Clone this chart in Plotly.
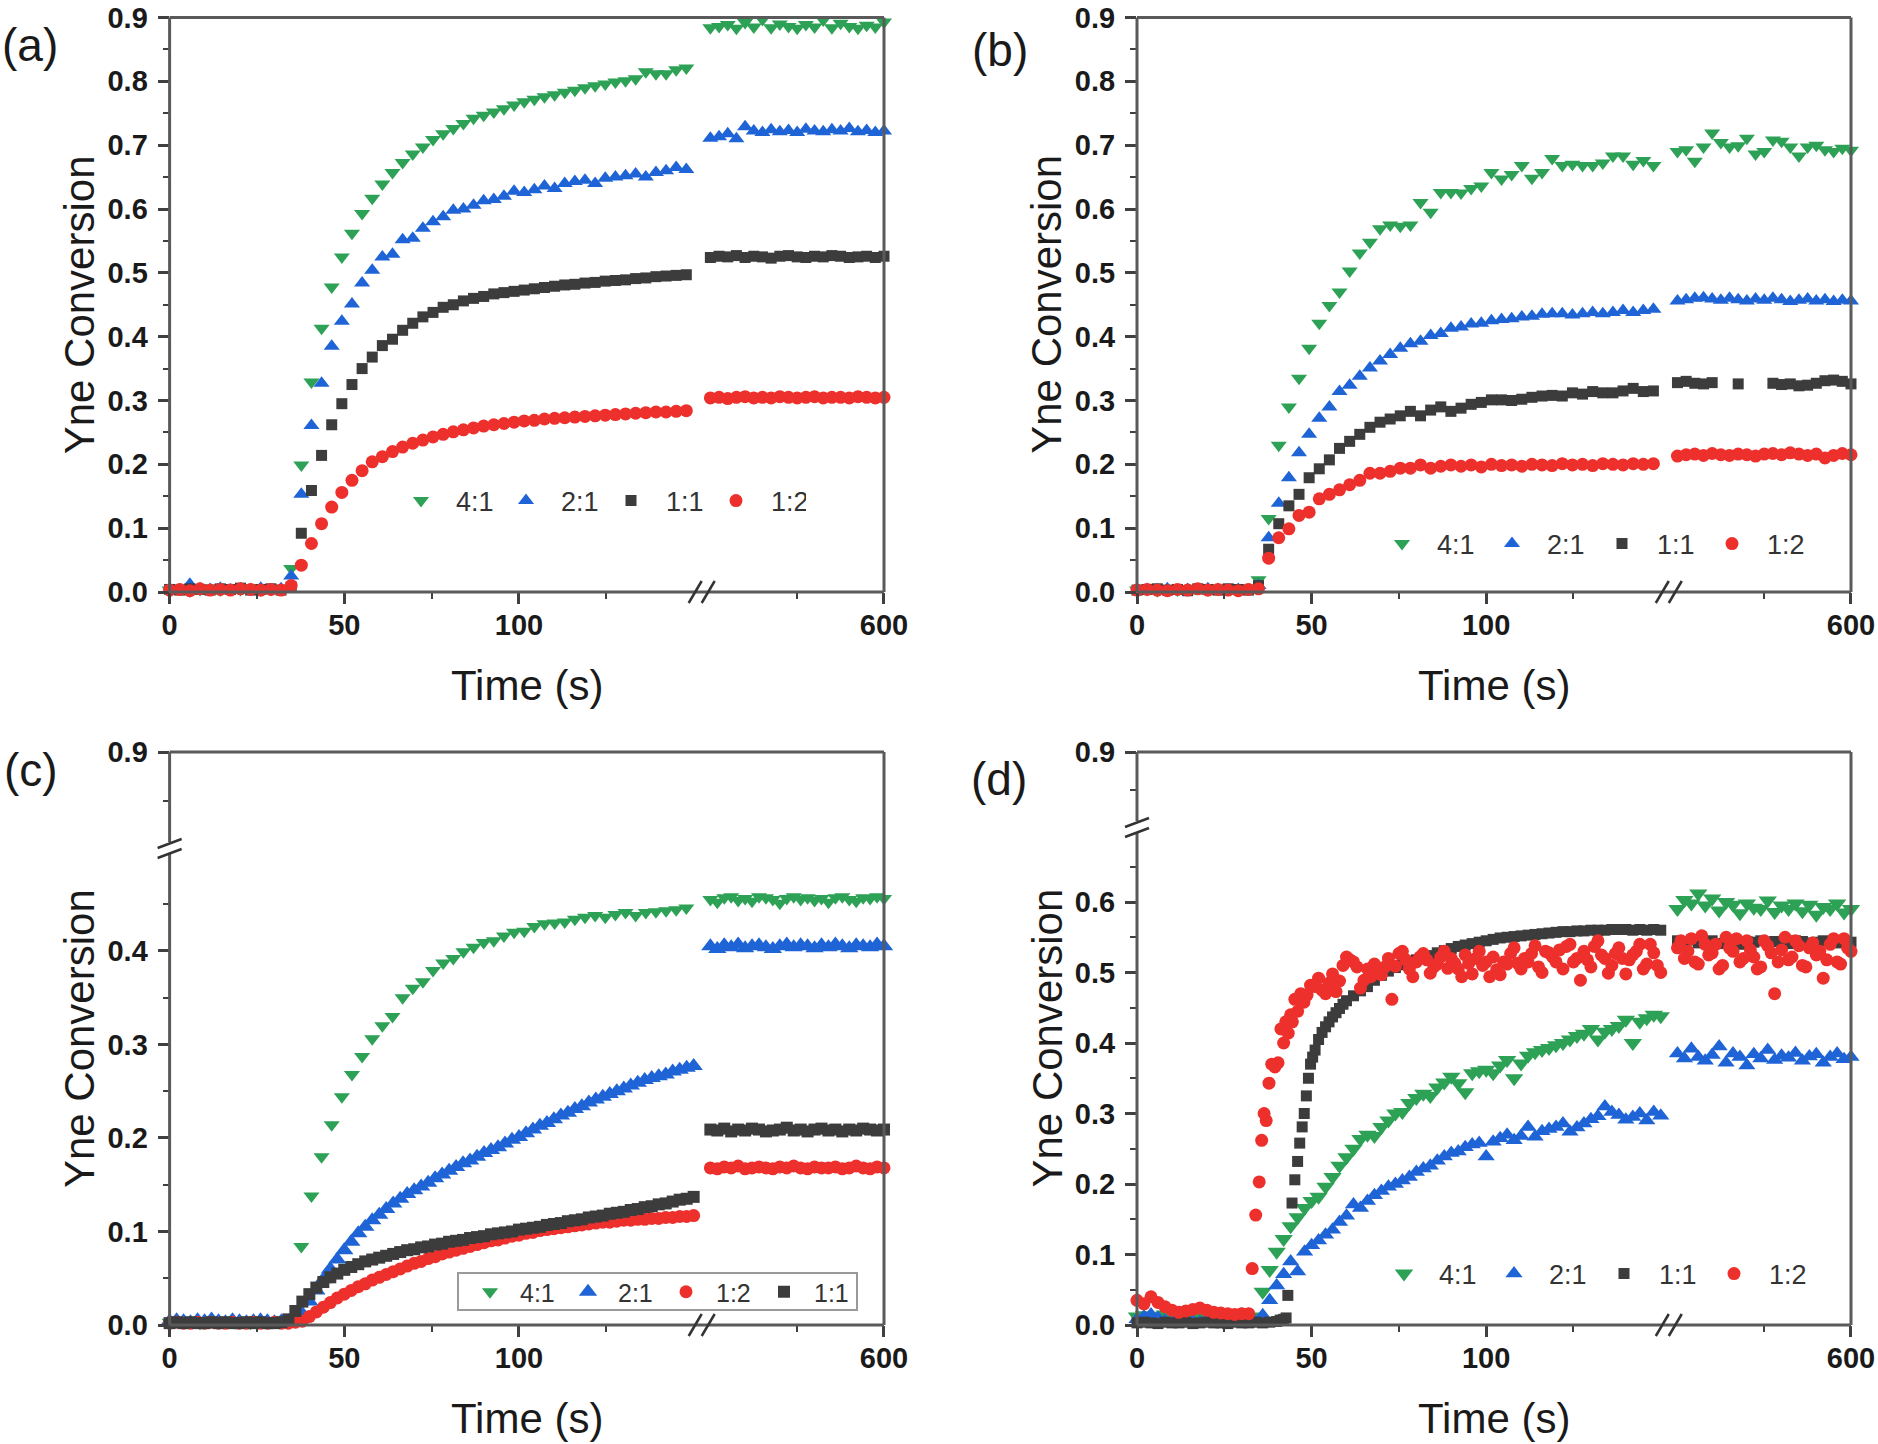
import plotly.graph_objects as go

W, H = 1878, 1444
FONT = "Liberation Sans, Arial, Helvetica, sans-serif"
GREEN, BLUE, RED, BLACK = "#2DA155", "#1F64D6", "#EE302D", "#3C3C3C"
FRAME = "#5A5A5A"
TICKC = "#404040"

# ---------------- sampling times ----------------
T_AB = [0.0, 2.9, 5.8, 8.7, 11.6, 14.5, 17.4, 20.3, 23.2, 26.1, 29.0, 31.9,
        34.8, 37.7, 40.6, 43.5, 46.4, 49.3, 52.2, 55.1, 58.0, 60.9,
        63.8, 66.7, 69.6, 72.5, 75.4, 78.3, 81.2, 84.1, 87.0, 89.9,
        92.8, 95.7, 98.6, 101.5, 104.4, 107.3, 110.2, 113.1, 116.0, 118.9,
        121.8, 124.7, 127.6, 130.5, 133.4, 136.3, 139.2, 142.1, 145.0, 147.9]
R5 = [500, 505, 510, 515, 520, 525, 530, 535, 540, 545, 550, 555, 560, 565,
      570, 575, 580, 585, 590, 595, 600]
R4 = [500, 504, 508, 512, 516, 520, 524, 528, 532, 536, 540, 544, 548, 552,
      556, 560, 564, 568, 572, 576, 580, 584, 588, 592, 596, 600]
R4b = [502, 506, 510, 514, 518, 522, 526, 530, 534, 538, 542, 546, 550, 554,
       558, 562, 566, 570, 574, 578, 582, 586, 590, 594, 598]
G2 = [0, 2, 4, 6, 8, 10, 12, 14, 16, 18, 20, 22, 24, 26, 28, 30, 32, 34, 36,
      38, 40, 42, 44, 46, 48, 50, 52, 54, 56, 58, 60, 62, 64, 66, 68, 70, 72,
      74, 76, 78, 80, 82, 84, 86, 88, 90, 92, 94, 96, 98, 100, 102, 104, 106,
      108, 110, 112, 114, 116, 118, 120, 122, 124, 126, 128, 130, 132, 134,
      136, 138, 140, 142, 144, 146, 148, 150]

# ---------------- panel (a) ----------------
a_41 = [0.003, 0.005, 0.002, 0.004, 0.006, 0.003, 0.005, 0.004, 0.006, 0.003, 0.004, 0.005,
        0.037, 0.199, 0.329, 0.413, 0.478, 0.525, 0.562, 0.593, 0.617, 0.639,
        0.657, 0.673, 0.686, 0.697, 0.709, 0.718, 0.726, 0.734, 0.742, 0.747,
        0.752, 0.757, 0.763, 0.768, 0.772, 0.776, 0.779, 0.783, 0.786, 0.790,
        0.793, 0.796, 0.799, 0.801, 0.804, 0.815, 0.812, 0.812, 0.818, 0.821]
a_41_r = [0.884, 0.886, 0.889, 0.883, 0.892, 0.885, 0.897, 0.884, 0.890, 0.886, 0.883,
          0.889, 0.885, 0.896, 0.884, 0.891, 0.886, 0.883, 0.888, 0.885, 0.893]
a_21 = [0.004, 0.003, 0.012, 0.005, 0.004, 0.006, 0.003, 0.005, 0.004, 0.006, 0.003, 0.005,
        0.025, 0.153, 0.261, 0.327, 0.385, 0.424, 0.451, 0.484, 0.504, 0.525,
        0.529, 0.552, 0.554, 0.570, 0.580, 0.588, 0.598, 0.600, 0.606, 0.613,
        0.615, 0.620, 0.628, 0.626, 0.630, 0.636, 0.632, 0.640, 0.643, 0.645,
        0.640, 0.648, 0.650, 0.652, 0.655, 0.650, 0.657, 0.660, 0.665, 0.662]
a_21_r = [0.711, 0.713, 0.718, 0.710, 0.729, 0.722, 0.720, 0.724, 0.721, 0.723, 0.720,
          0.725, 0.722, 0.721, 0.724, 0.722, 0.726, 0.721, 0.723, 0.720, 0.722]
a_11 = [0.004, 0.003, 0.005, 0.004, 0.003, 0.005, 0.004, 0.006, 0.003, 0.004, 0.005, 0.003,
        0.008, 0.092, 0.159, 0.214, 0.262, 0.295, 0.325, 0.350, 0.368, 0.386,
        0.396, 0.410, 0.421, 0.431, 0.438, 0.446, 0.450, 0.456, 0.460, 0.463,
        0.467, 0.469, 0.471, 0.473, 0.475, 0.477, 0.479, 0.481, 0.482, 0.484,
        0.485, 0.487, 0.488, 0.489, 0.491, 0.492, 0.494, 0.495, 0.496, 0.497]
a_11_r = [0.524, 0.526, 0.525, 0.527, 0.524, 0.526, 0.525, 0.523, 0.526, 0.527, 0.525,
          0.524, 0.526, 0.525, 0.527, 0.526, 0.524, 0.525, 0.526, 0.524, 0.526]
a_12 = [0.003, 0.004, 0.002, 0.005, 0.003, 0.004, 0.003, 0.005, 0.004, 0.003, 0.004, 0.003,
        0.010, 0.042, 0.076, 0.107, 0.133, 0.156, 0.175, 0.190, 0.204, 0.212,
        0.220, 0.227, 0.233, 0.238, 0.243, 0.247, 0.251, 0.254, 0.257, 0.260,
        0.262, 0.264, 0.266, 0.268, 0.269, 0.271, 0.272, 0.273, 0.274, 0.275,
        0.276, 0.277, 0.278, 0.279, 0.280, 0.281, 0.282, 0.282, 0.283, 0.284]
a_12_r = [0.304, 0.305, 0.303, 0.305, 0.306, 0.304, 0.305, 0.304, 0.306, 0.305, 0.304,
          0.305, 0.306, 0.304, 0.305, 0.305, 0.304, 0.306, 0.305, 0.304, 0.305]

# ---------------- panel (b) ----------------
b_41 = [0.003, 0.004, 0.002, 0.005, 0.003, 0.004, 0.006, 0.003, 0.005, 0.004, 0.003, 0.005,
        0.019, 0.115, 0.230, 0.290, 0.335, 0.382, 0.421, 0.449, 0.470, 0.503,
        0.531, 0.548, 0.569, 0.575, 0.573, 0.575, 0.610, 0.595, 0.626, 0.626,
        0.625, 0.632, 0.636, 0.657, 0.647, 0.654, 0.668, 0.648, 0.657, 0.679,
        0.668, 0.670, 0.668, 0.668, 0.672, 0.683, 0.683, 0.670, 0.676, 0.668]
b_41_r = [0.690, 0.693, 0.675, 0.697, 0.719, 0.704, 0.697, 0.699, 0.711, 0.686, 0.690,
          0.708, 0.706, 0.697, 0.683, 0.697, 0.700, 0.693, 0.690, 0.695, 0.692]
b_21 = [0.003, 0.004, 0.003, 0.005, 0.002, 0.004, 0.003, 0.005, 0.004, 0.003, 0.004, 0.003,
        0.010, 0.085, 0.139, 0.179, 0.218, 0.247, 0.272, 0.290, 0.314, 0.324,
        0.338, 0.351, 0.362, 0.372, 0.382, 0.389, 0.393, 0.402, 0.405, 0.413,
        0.415, 0.420, 0.421, 0.425, 0.427, 0.428, 0.431, 0.432, 0.435, 0.436,
        0.436, 0.434, 0.436, 0.438, 0.436, 0.438, 0.441, 0.438, 0.441, 0.443]
b_21_r = [0.456, 0.458, 0.460, 0.461, 0.459, 0.457, 0.460, 0.458, 0.456, 0.459, 0.457,
          0.460, 0.458, 0.455, 0.457, 0.459, 0.456, 0.458, 0.455, 0.457, 0.456]
b_11 = [0.003, 0.004, 0.005, 0.003, 0.004, 0.002, 0.005, 0.004, 0.003, 0.005, 0.004, 0.003,
        0.010, 0.067, 0.107, 0.135, 0.153, 0.179, 0.193, 0.207, 0.225, 0.236,
        0.247, 0.258, 0.266, 0.271, 0.276, 0.283, 0.276, 0.285, 0.290, 0.283,
        0.288, 0.294, 0.297, 0.301, 0.301, 0.300, 0.302, 0.305, 0.307, 0.308,
        0.307, 0.312, 0.310, 0.314, 0.312, 0.312, 0.315, 0.319, 0.314, 0.315]
b_11_r = [0.328, 0.330, 0.327, 0.326, 0.328, None, None, 0.326, None, None, None,
          0.327, 0.325, 0.326, 0.323, 0.324, 0.327, 0.331, 0.332, 0.330, 0.326]
b_12 = [0.003, 0.004, 0.003, 0.002, 0.004, 0.003, 0.005, 0.003, 0.004, 0.003, 0.002, 0.004,
        0.005, 0.053, 0.085, 0.099, 0.120, 0.125, 0.146, 0.153, 0.160, 0.168,
        0.175, 0.186, 0.186, 0.189, 0.194, 0.194, 0.199, 0.194, 0.197, 0.199,
        0.197, 0.199, 0.196, 0.200, 0.198, 0.199, 0.197, 0.200, 0.199, 0.198,
        0.201, 0.199, 0.200, 0.198, 0.201, 0.200, 0.199, 0.201, 0.200, 0.201]
b_12_r = [0.213, 0.215, 0.216, 0.214, 0.217, 0.215, 0.214, 0.216, 0.215, 0.213, 0.216,
          0.217, 0.215, 0.218, 0.216, 0.214, 0.216, 0.210, 0.214, 0.217, 0.215]

# ---------------- panel (c) ----------------
c_41 = [0.003, 0.004, 0.003, 0.002, 0.004, 0.003, 0.004, 0.003, 0.002, 0.004, 0.003, 0.004,
        0.008, 0.084, 0.138, 0.180, 0.214, 0.244, 0.268, 0.287, 0.306, 0.320,
        0.330, 0.350, 0.360, 0.367, 0.379, 0.387, 0.392, 0.399, 0.404, 0.409,
        0.411, 0.416, 0.420, 0.421, 0.426, 0.429, 0.430, 0.431, 0.434, 0.436,
        0.438, 0.436, 0.439, 0.441, 0.438, 0.441, 0.442, 0.443, 0.444, 0.446]
c_41_r = [0.455, 0.452, 0.457, 0.458, 0.454, 0.456, 0.453, 0.458, 0.457, 0.455, 0.451, 0.456, 0.458,
          0.455, 0.457, 0.454, 0.456, 0.452, 0.457, 0.458, 0.455, 0.453, 0.457, 0.456, 0.458, 0.456]
c_21 = [0.004, 0.005, 0.004, 0.003, 0.005, 0.004, 0.006, 0.004, 0.003, 0.005, 0.004, 0.003,
        0.004, 0.005, 0.004, 0.003, 0.004, 0.004, 0.004,
        0.012, 0.025, 0.037, 0.049, 0.060, 0.070, 0.080, 0.089, 0.098, 0.105,
        0.112, 0.118, 0.124, 0.130, 0.135, 0.140, 0.144, 0.148, 0.152, 0.157,
        0.161, 0.165, 0.169, 0.173, 0.176, 0.180, 0.184, 0.187, 0.190, 0.194,
        0.198, 0.201, 0.205, 0.209, 0.213, 0.216, 0.220, 0.224, 0.227, 0.231,
        0.234, 0.238, 0.241, 0.244, 0.247, 0.250, 0.253, 0.256, 0.259, 0.262,
        0.264, 0.266, 0.268, 0.271, 0.273, 0.275, 0.277]
c_21_r = [0.405, 0.402, 0.406, 0.404, 0.407, 0.403, 0.405, 0.406, 0.404, 0.402, 0.405, 0.407, 0.404,
          0.406, 0.405, 0.403, 0.406, 0.404, 0.407, 0.405, 0.403, 0.406, 0.405, 0.404, 0.407, 0.405]
c_12 = [0.002, 0.003, 0.002, 0.002, 0.003, 0.002, 0.003, 0.002, 0.002, 0.003, 0.002, 0.002,
        0.003, 0.002, 0.002, 0.003, 0.002, 0.002, 0.003,
        0.004, 0.009, 0.014, 0.019, 0.024, 0.029, 0.033, 0.037, 0.041, 0.044,
        0.048, 0.051, 0.054, 0.057, 0.060, 0.063, 0.066, 0.068, 0.071, 0.073,
        0.076, 0.078, 0.080, 0.082, 0.084, 0.086, 0.088, 0.090, 0.091, 0.093,
        0.095, 0.096, 0.098, 0.099, 0.101, 0.102, 0.103, 0.104, 0.105, 0.106,
        0.107, 0.108, 0.109, 0.110, 0.110, 0.111, 0.112, 0.112, 0.113, 0.113,
        0.114, 0.114, 0.115, 0.115, 0.116, 0.116, 0.117]
c_12_r = [0.168, 0.167, 0.169, 0.168, 0.170, 0.167, 0.168, 0.169, 0.168, 0.167, 0.169, 0.168, 0.170,
          0.168, 0.167, 0.169, 0.168, 0.168, 0.169, 0.167, 0.168, 0.170, 0.168, 0.167, 0.169, 0.168]
c_11 = [0.002, 0.003, 0.002, 0.003, 0.002, 0.002, 0.003, 0.002, 0.003, 0.002, 0.002, 0.003,
        0.002, 0.003, 0.002, 0.002, 0.003,
        0.006, 0.015, 0.025, 0.033,
        0.040, 0.046, 0.051, 0.055, 0.059, 0.062, 0.065, 0.068, 0.070, 0.072,
        0.074, 0.076, 0.078, 0.080, 0.081, 0.083, 0.084, 0.086, 0.087, 0.089,
        0.090, 0.091, 0.093, 0.094, 0.095, 0.097, 0.098, 0.099, 0.100, 0.102,
        0.103, 0.104, 0.105, 0.107, 0.108, 0.109, 0.111, 0.112, 0.113, 0.115,
        0.116, 0.117, 0.119, 0.120, 0.121, 0.123, 0.124, 0.126, 0.127, 0.129,
        0.130, 0.132, 0.134, 0.135, 0.137]
c_11_r = [0.209, 0.208, 0.210, 0.207, 0.209, 0.208, 0.210, 0.209, 0.207, 0.208, 0.209, 0.211, 0.208,
          0.209, 0.207, 0.209, 0.210, 0.208, 0.209, 0.207, 0.209, 0.208, 0.210, 0.209, 0.208, 0.209]

# ---------------- panel (d) ----------------
d_41 = [0.012, 0.014, 0.010, 0.013, 0.015, 0.012, 0.010, 0.013, 0.011, 0.014, 0.012, 0.010,
        0.013, 0.011, 0.012, 0.010, 0.008, 0.012,
        0.047, 0.078, 0.104, 0.122, 0.140, 0.153, 0.166, 0.176, 0.182, 0.196,
        0.210, 0.226, 0.238, 0.250, 0.264, 0.270, 0.268, 0.281, 0.290, 0.300,
        0.302, 0.315, 0.322, 0.328, 0.325, 0.337, 0.344, 0.352, 0.343, 0.330,
        0.357, 0.360, 0.362, 0.357, 0.368, 0.376, 0.350, 0.371, 0.382, 0.387,
        0.390, 0.393, 0.397, 0.400, 0.405, 0.410, 0.413, 0.420, 0.405, 0.416,
        0.420, 0.424, 0.433, 0.400, 0.430, 0.435, 0.440, 0.438]
d_41_r = [0.590, 0.603, 0.598, 0.612, 0.595, 0.605, 0.588, 0.600, 0.596, 0.584, 0.598, 0.592, 0.590,
          0.602, 0.586, 0.595, 0.590, 0.598, 0.587, 0.596, 0.582, 0.593, 0.590, 0.598, 0.585, 0.590]
d_21 = [0.008, 0.012, 0.015, 0.010, 0.006, 0.005, 0.004, 0.006, 0.005, 0.004, 0.006, 0.005,
        0.004, 0.006, 0.010, 0.015, 0.006, 0.004,
        0.014, 0.035, 0.056, 0.072, 0.090, 0.076, 0.104, 0.113, 0.120, 0.128,
        0.135, 0.146, 0.155, 0.171, 0.166, 0.176, 0.184, 0.190, 0.196, 0.200,
        0.205, 0.210, 0.217, 0.222, 0.226, 0.233, 0.239, 0.244, 0.246, 0.252,
        0.256, 0.258, 0.239, 0.260, 0.265, 0.270, 0.262, 0.268, 0.281, 0.267,
        0.275, 0.278, 0.281, 0.286, 0.274, 0.280, 0.286, 0.292, 0.296, 0.310,
        0.302, 0.298, 0.291, 0.295, 0.300, 0.290, 0.302, 0.297]
d_21_r = [0.385, 0.378, 0.392, 0.380, 0.375, 0.383, 0.395, 0.372, 0.385, 0.380, 0.368, 0.384, 0.378,
          0.390, 0.376, 0.382, 0.379, 0.386, 0.375, 0.381, 0.384, 0.372, 0.380, 0.385, 0.377, 0.380]
d_11_t = [0, 2, 4, 6, 8, 10, 12, 14, 16, 18, 20, 22, 24, 26, 28, 30, 32, 34, 36, 38,
          40, 41, 42, 42.7, 43.2, 44.4, 45.2, 46.0, 46.6, 47.3, 47.9, 48.5, 49.1, 49.7,
          50.3, 51, 52, 53, 54, 55, 56, 57, 58, 59, 60,
          62, 64, 66, 68, 70, 72, 74, 76, 78, 80, 82, 84, 86, 88, 90, 92, 94, 96, 98, 100,
          102, 104, 106, 108, 110, 112, 114, 116, 118, 120, 122, 124, 126, 128, 130, 132,
          134, 136, 138, 140, 142, 144, 146, 148, 150]
d_11 = [0.003, 0.004, 0.003, 0.002, 0.004, 0.003, 0.003, 0.004, 0.002, 0.003, 0.004, 0.003,
        0.003, 0.002, 0.004, 0.003, 0.003, 0.004, 0.003, 0.004,
        0.005, 0.007, 0.008, 0.010, 0.042, 0.173, 0.206, 0.232, 0.258, 0.281, 0.300, 0.325,
        0.350, 0.370, 0.380, 0.390, 0.405, 0.415, 0.423, 0.430, 0.437, 0.443, 0.449, 0.455, 0.460,
        0.467, 0.474, 0.480, 0.489, 0.496, 0.502, 0.507, 0.511, 0.515, 0.518,
        0.521, 0.524, 0.528, 0.531, 0.534, 0.537, 0.539, 0.541, 0.543, 0.545,
        0.547, 0.549, 0.550, 0.551, 0.552, 0.553, 0.554, 0.555, 0.556, 0.557,
        0.558, 0.558, 0.559, 0.559, 0.560, 0.560, 0.560, 0.561, 0.561, 0.561,
        0.560, 0.561, 0.560, 0.561, 0.560]
d_11_r = [0.545, 0.543, 0.546, 0.542, 0.544, 0.545, 0.541, 0.543, 0.538, 0.540, 0.544, 0.543, 0.545,
          0.542, 0.544, 0.543, 0.541, 0.545, 0.544, 0.542, 0.543, 0.545, 0.544, 0.542, 0.544, 0.543]
d_12_t = [0, 2, 4, 6, 8, 10, 12, 14, 16, 18, 20, 22, 24, 26, 28, 30, 32,
          33, 34, 35, 35.7, 36.4, 37, 37.8, 38.6, 39.5, 40.4, 41.2, 42, 42.6, 43.3, 44,
          44.5, 45.2, 46, 46.9, 47.8, 48.7, 49.7,
          51, 53, 55, 57, 59, 61, 63, 65, 67, 69, 71, 73, 75, 77, 79, 81, 83, 85, 87, 89,
          91, 93, 95, 97, 99, 101, 103, 105, 107, 109, 111, 113, 115, 117, 119, 121, 123,
          125, 127, 129, 131, 133, 135, 137, 139, 141, 143, 145, 147, 149,
          52, 54, 56, 58, 60, 62, 64, 66, 68, 70, 72, 74, 76, 78, 80, 82, 84, 86, 88, 90,
          92, 94, 96, 98, 100, 102, 104, 106, 108, 110, 112, 114, 116, 118, 120, 122, 124,
          126, 128, 130, 132, 134, 136, 138, 140, 142, 144, 146, 148, 150]
d_12 = [0.035, 0.030, 0.040, 0.032, 0.026, 0.021, 0.018, 0.020, 0.022, 0.024, 0.021, 0.018,
        0.017, 0.016, 0.015, 0.016, 0.016,
        0.080, 0.156, 0.203, 0.262, 0.300, 0.290, 0.343, 0.370, 0.366, 0.372, 0.420, 0.400,
        0.430, 0.414, 0.440, 0.430, 0.462, 0.445, 0.470, 0.458, 0.468, 0.482,
        0.480, 0.475, 0.485, 0.473, 0.510, 0.518, 0.508, 0.489, 0.494, 0.499,
        0.508, 0.462, 0.527, 0.518, 0.494, 0.522, 0.518, 0.508, 0.522, 0.506,
        0.513, 0.494, 0.513, 0.520, 0.510, 0.494, 0.504, 0.515, 0.527, 0.513,
        0.520, 0.527, 0.508, 0.530, 0.522, 0.532, 0.537, 0.515, 0.489, 0.518,
        0.537, 0.525, 0.499, 0.527, 0.520, 0.518, 0.530, 0.505, 0.540, 0.510,
        0.492, 0.470, 0.498, 0.488, 0.522, 0.515, 0.478, 0.505, 0.512, 0.497,
        0.520, 0.509, 0.530, 0.505, 0.515, 0.527, 0.499, 0.512, 0.530, 0.520,
        0.505, 0.525, 0.498, 0.530, 0.515, 0.522, 0.497, 0.512, 0.535, 0.505,
        0.515, 0.538, 0.500, 0.528, 0.515, 0.505, 0.540, 0.520, 0.530, 0.508,
        0.545, 0.520, 0.510, 0.535, 0.498, 0.525, 0.540, 0.512, 0.528, 0.500]
d_12_rt = R4 + R4b
d_12_r = [0.535, 0.520, 0.548, 0.512, 0.540, 0.528, 0.505, 0.550, 0.530, 0.515, 0.545, 0.522, 0.508,
          0.538, 0.470, 0.532, 0.518, 0.545, 0.510, 0.535, 0.525, 0.492, 0.540, 0.515, 0.548, 0.530,
          0.545, 0.530, 0.515, 0.552, 0.525, 0.540, 0.510, 0.535, 0.548, 0.520, 0.532, 0.505, 0.545,
          0.528, 0.515, 0.550, 0.522, 0.538, 0.508, 0.542, 0.530, 0.518, 0.548, 0.512, 0.535]

SYM = {"4:1": ("triangle-down", GREEN), "2:1": ("triangle-up", BLUE),
       "1:1": ("square", BLACK), "1:2": ("circle", RED)}
SIZES = {
    "a": {"4:1": 14, "2:1": 14, "1:1": 11, "1:2": 13},
    "b": {"4:1": 14, "2:1": 14, "1:1": 11, "1:2": 13},
    "c": {"4:1": 14, "2:1": 16, "1:1": 12, "1:2": 13},
    "d": {"4:1": 16, "2:1": 15, "1:1": 11, "1:2": 13},
}

# ---------------- geometry (pixels) ----------------
def fx(px):
    return px / W

def fy(py):
    return 1 - py / H

BREAK_FRAC = 0.7448
PANELS = {
    "a": dict(x0=169.6, x1=884, y0=17.5, y1=592, yb=None, ax=("x", "x2", "y", None), lg="legend"),
    "b": dict(x0=1137, x1=1851, y0=17.5, y1=592, yb=None, ax=("x3", "x4", "y2", None), lg="legend2"),
    "c": dict(x0=169.6, x1=884, y0=752, y1=1325, yb=849, ax=("x5", "x6", "y3", "y4"), lg="legend3"),
    "d": dict(x0=1137, x1=1851, y0=752, y1=1325, yb=828, ax=("x7", "x8", "y5", "y6"), lg="legend4"),
}

fig = go.Figure()

def add_series(p, label, tl, vl, tr, vr):
    g = PANELS[p]
    xl, xr, yl, _ = g["ax"]
    sym, col = SYM[label]
    mk = dict(symbol=sym, color=col, size=SIZES[p][label], line=dict(width=0))
    fig.add_trace(go.Scatter(x=tl, y=vl, mode="markers", marker=mk, name=label,
                             legend=g["lg"], xaxis=xl, yaxis=yl, cliponaxis=False))
    fig.add_trace(go.Scatter(x=tr, y=vr, mode="markers", marker=mk, name=label,
                             legend=g["lg"], xaxis=xr, yaxis=yl, cliponaxis=False,
                             showlegend=False))

add_series("a", "4:1", T_AB, a_41, R5, a_41_r)
add_series("a", "2:1", T_AB, a_21, R5, a_21_r)
add_series("a", "1:1", T_AB, a_11, R5, a_11_r)
add_series("a", "1:2", T_AB, a_12, R5, a_12_r)

add_series("b", "4:1", T_AB, b_41, R5, b_41_r)
add_series("b", "2:1", T_AB, b_21, R5, b_21_r)
add_series("b", "1:1", T_AB, b_11, R5, b_11_r)
add_series("b", "1:2", T_AB, b_12, R5, b_12_r)

add_series("c", "4:1", T_AB, c_41, R4, c_41_r)
add_series("c", "2:1", G2, c_21, R4, c_21_r)
add_series("c", "1:2", G2, c_12, R4, c_12_r)
add_series("c", "1:1", G2, c_11, R4, c_11_r)

add_series("d", "4:1", G2, d_41, R4, d_41_r)
add_series("d", "2:1", G2, d_21, R4, d_21_r)
add_series("d", "1:1", d_11_t, d_11, R4, d_11_r)
add_series("d", "1:2", d_12_t, d_12, d_12_rt, d_12_r)

# empty traces so the upper (broken) y segments get drawn
for p in ("c", "d"):
    xl, xr, yl, yu = PANELS[p]["ax"]
    fig.add_trace(go.Scatter(x=[], y=[], xaxis=xl, yaxis=yu, showlegend=False))

TICKFONT = dict(family=FONT, size=29, color="#1A1A1A", weight="bold")
common = dict(showgrid=False, zeroline=False, showline=False, ticks="outside",
              ticklen=11, tickwidth=2.5, tickcolor=TICKC, tickfont=TICKFONT,
              automargin=False)
xcommon = dict(common, ticklabelstandoff=-4)
ycommon = dict(common, ticklabelstandoff=4)

def minor(vals):
    return dict(tickvals=vals, ticklen=6, tickwidth=2, tickcolor=TICKC, ticks="outside")

layout = {}
def akey(a):
    n = a[1:]
    return ("xaxis" if a[0] == "x" else "yaxis") + n

shapes = []
annotations = []
LINE = dict(color=FRAME, width=3)
BRK = dict(color="#333333", width=2.5)

def seg(x0, y0, x1, y1, line=LINE):
    shapes.append(dict(type="line", xref="paper", yref="paper", x0=fx(x0), y0=fy(y0),
                       x1=fx(x1), y1=fy(y1), line=line, layer="above"))

for p, g in PANELS.items():
    xl, xr, yl, yu = g["ax"]
    xb = g["x0"] + BREAK_FRAC * (g["x1"] - g["x0"])
    layout[akey(xl)] = dict(xcommon, domain=[fx(g["x0"]), fx(xb)], range=[0, 152.3],
                            anchor=yl, tickvals=[0, 50, 100], minor=minor([25, 75, 125]))
    layout[akey(xr)] = dict(xcommon, domain=[fx(xb), fx(g["x1"])], range=[495, 600],
                            anchor=yl, tickvals=[600], minor=minor([550]))
    if yu is None:
        layout[akey(yl)] = dict(ycommon, domain=[fy(g["y1"]), fy(g["y0"])], range=[0, 0.9],
                                anchor=xl, tickformat=".1f",
                                tickvals=[0, 0.1, 0.2, 0.3, 0.4, 0.5, 0.6, 0.7, 0.8, 0.9],
                                minor=minor([0.05, 0.15, 0.25, 0.35, 0.45, 0.55, 0.65, 0.75, 0.85]))
    else:
        yb = g["yb"]
        if p == "c":
            lrange = [0, 0.509]
            lt = [0, 0.1, 0.2, 0.3, 0.4]
            lm = [0.05, 0.15, 0.25, 0.35, 0.45]
        else:
            lrange = [0, 0.705]
            lt = [0, 0.1, 0.2, 0.3, 0.4, 0.5, 0.6]
            lm = [0.05, 0.15, 0.25, 0.35, 0.45, 0.55, 0.65]
        layout[akey(yl)] = dict(ycommon, domain=[fy(g["y1"]), fy(yb)], range=lrange,
                                anchor=xl, tickformat=".1f", tickvals=lt, minor=minor(lm))
        layout[akey(yu)] = dict(ycommon, domain=[fy(yb), fy(g["y0"])], range=[0.8, 0.9],
                                anchor=xl, tickformat=".1f", tickvals=[0.9], minor=minor([0.85]))

    # frame
    seg(g["x0"], g["y0"], g["x1"], g["y0"])
    seg(g["x1"], g["y0"], g["x1"], g["y1"])
    seg(g["x0"], g["y1"], g["x1"], g["y1"])
    if g["yb"] is None:
        seg(g["x0"], g["y0"], g["x0"], g["y1"])
    else:
        yb = g["yb"]
        seg(g["x0"], g["y0"], g["x0"], yb - 7)
        seg(g["x0"], yb + 4, g["x0"], g["y1"])
        seg(g["x0"] - 12, yb - 1, g["x0"] + 12, yb - 10, BRK)
        seg(g["x0"] - 12, yb + 9, g["x0"] + 12, yb, BRK)
    # x break marks
    yb0 = g["y1"]
    seg(xb - 13, yb0 + 11, xb, yb0 - 11, BRK)
    seg(xb, yb0 + 11, xb + 13, yb0 - 11, BRK)

    # titles
    annotations.append(dict(text="Yne Conversion", xref="paper", yref="paper",
                            x=fx(g["x0"] - 90), y=fy((g["y0"] + g["y1"]) / 2),
                            textangle=-90, showarrow=False, xanchor="center", yanchor="middle",
                            font=dict(family=FONT, size=42, color="#1A1A1A")))
    annotations.append(dict(text="Time (s)", xref="paper", yref="paper",
                            x=fx((g["x0"] + g["x1"]) / 2), y=fy(g["y1"] + 93),
                            showarrow=False, xanchor="center", yanchor="middle",
                            font=dict(family=FONT, size=42, color="#1A1A1A")))

# legend (c) frame box
shapes.append(dict(type="rect", xref="paper", yref="paper", x0=fx(458), y0=fy(1310),
                   x1=fx(857), y1=fy(1273), line=dict(color="#9A9A9A", width=2),
                   fillcolor="rgba(0,0,0,0)", layer="above"))

PLAB = {"a": (30, 45), "b": (1000, 50), "c": (31, 770), "d": (999, 779)}
for p, (px, py) in PLAB.items():
    annotations.append(dict(text="(" + p + ")", xref="paper", yref="paper", x=fx(px), y=fy(py),
                            showarrow=False, xanchor="center", yanchor="middle",
                            font=dict(family=FONT, size=46, color="#1A1A1A")))

def leg(x, y, size, itemw, entw):
    return dict(orientation="h", x=fx(x), y=fy(y), xanchor="left", yanchor="middle",
                font=dict(family=FONT, size=size, color="#333333"), itemwidth=itemw,
                entrywidth=entw, entrywidthmode="pixels",
                bgcolor="rgba(0,0,0,0)", traceorder="normal")

layout["legend"] = leg(386, 501, 27, 60, 30)
layout["legend2"] = leg(1367, 544, 27, 60, 35)
layout["legend3"] = leg(460, 1292, 25, 50, 33)
layout["legend4"] = leg(1369, 1274, 27, 60, 35)

fig.update_layout(width=W, height=H, margin=dict(l=0, r=0, t=0, b=0),
                  paper_bgcolor="white", plot_bgcolor="white",
                  shapes=shapes, annotations=annotations, **layout)

fig.write_html("out.html", config={"displayModeBar": False},
               post_script="document.body.style.margin='0px';document.body.style.overflow='hidden';")
